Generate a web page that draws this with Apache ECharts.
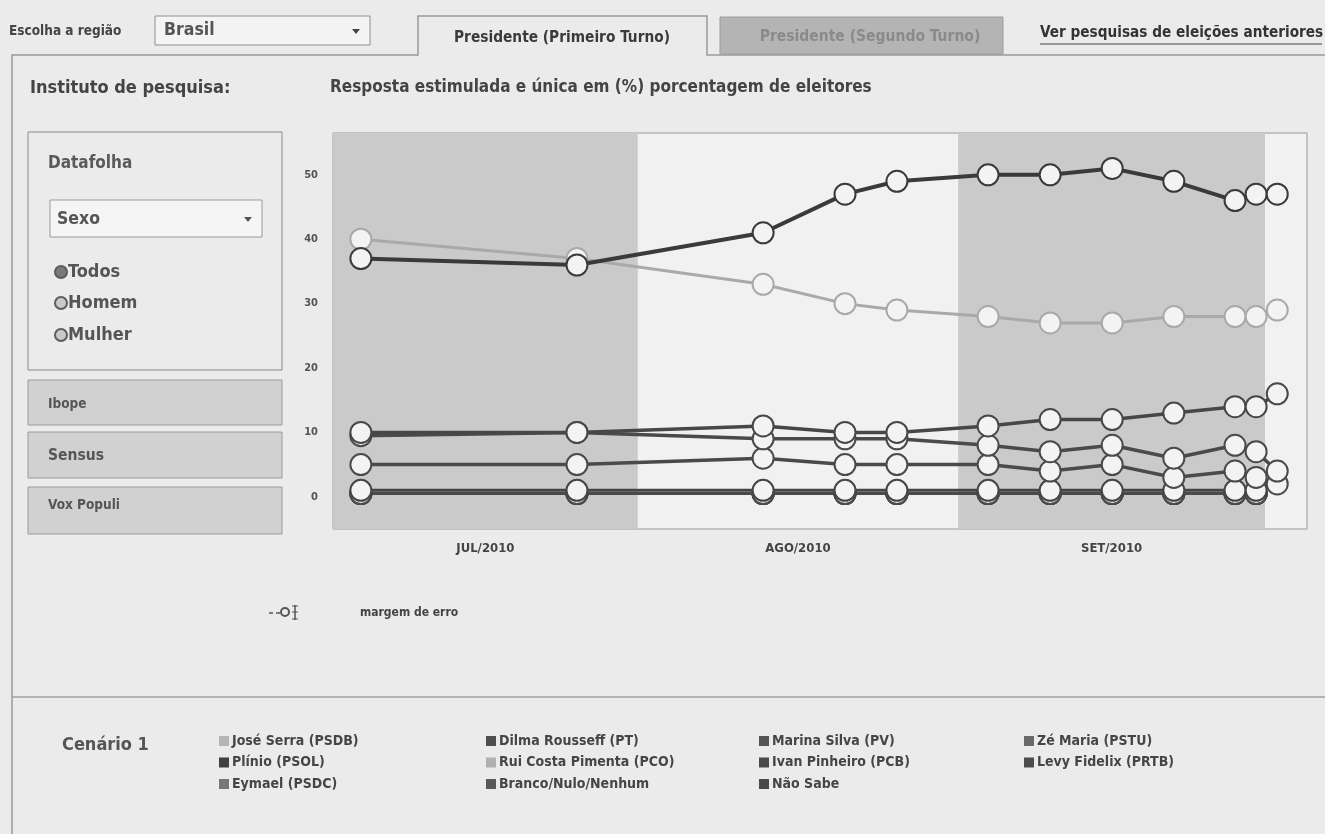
<!DOCTYPE html>
<html>
<head>
<meta charset="utf-8">
<script src="https://cdn.jsdelivr.net/npm/echarts@6/dist/echarts.min.js"></script>
<style>
  html, body { margin: 0; padding: 0; background: #ebebeb; }
  #chart { width: 1325px; height: 834px; }
</style>
</head>
<body>
<div id="chart"></div>
<script>
// Poll release dates (Datafolha, first round 2010)
const pollDates = [
  '2010-07-03 18:00', '2010-07-25 02:00', '2010-08-12 11:00', '2010-08-20 13:00',
  '2010-08-25 16:00', '2010-09-03 16:00', '2010-09-09 19:00', '2010-09-15 22:00',
  '2010-09-22 00:00', '2010-09-28 01:00', '2010-09-30 03:00', '2010-10-02 05:00'
];

// Month bands shown under the plot
const monthLabels = ['JUL/2010', 'AGO/2010', 'SET/2010'];
const monthBounds = ['2010-07-01 00:00', '2010-07-31 02:00', '2010-08-31 17:00', '2010-10-01 00:00'];
const shadedMonths = [true, false, true];
const xStart = '2010-07-01 00:00';
const xEnd = '2010-10-05 03:30';

// Y axis tick labels
const yTickLabels = [0, 10, 20, 30, 40, 50];

// Vote intention (%)
const serra   = [40, 37, 33, 30, 29, 28, 27, 27, 28, 28, 28, 29];
const dilma   = [37, 36, 41, 47, 49, 50, 50, 51, 49, 46, 47, 47];
const marina  = [10, 10, 11, 10, 10, 11, 12, 12, 13, 14, 14, 16];
const naoSabe = [9.5, 10, 9, 9, 9, 8, 7, 8, 6, 8, 7, 4];
const branco  = [5, 5, 6, 5, 5, 5, 4, 5, 3, 4, 3, 2];
const plinio  = [1, 1, 1, 1, 1, 1, 1, 1, 1, 1, 1, null];
const zeMaria = [0.5, 0.5, 0.5, 0.5, 0.5, 0.5, 0.5, 0.5, 0.5, 0.5, 0.5, null];
const rui     = [0.5, 0.5, 0.5, 0.5, 0.5, 0.5, 0.5, 0.5, 0.5, 0.5, 0.5, null];
const ivan    = [0.5, 0.5, 0.5, 0.5, 0.5, 0.5, 0.5, 0.5, 0.5, 0.5, 0.5, null];
const levy    = [0.5, 0.5, 0.5, 0.5, 0.5, 0.5, 0.5, 0.5, 0.5, 0.5, 0.5, null];
const eymael  = [0.5, 0.5, 0.5, 0.5, 0.5, 0.5, 0.5, 0.5, 0.5, 0.5, 0.5, null];

// Legend columns
const legendCols = [
  ['José Serra (PSDB)', 'Plínio (PSOL)', 'Eymael (PSDC)'],
  ['Dilma Rousseff (PT)', 'Rui Costa Pimenta (PCO)', 'Branco/Nulo/Nenhum'],
  ['Marina Silva (PV)', 'Ivan Pinheiro (PCB)', 'Não Sabe'],
  ['Zé Maria (PSTU)', 'Levy Fidelix (PRTB)']
];

const FONT = "'DejaVu Sans Condensed','Liberation Sans Narrow',sans-serif";

// name, values, line colour, legend swatch colour, line width (drawing order: bottom first)
const seriesDefs = [
  ['Eymael (PSDC)', eymael, '#4a4a4a', '#787878', 3],
  ['Levy Fidelix (PRTB)', levy, '#4a4a4a', '#4c4c4c', 3],
  ['Ivan Pinheiro (PCB)', ivan, '#4a4a4a', '#4a4a4a', 3],
  ['Rui Costa Pimenta (PCO)', rui, '#4a4a4a', '#b0b0b0', 3],
  ['Zé Maria (PSTU)', zeMaria, '#4a4a4a', '#6a6a6a', 3],
  ['Plínio (PSOL)', plinio, '#454545', '#404040', 3],
  ['Branco/Nulo/Nenhum', branco, '#4a4a4a', '#5a5a5a', 3.5],
  ['Não Sabe', naoSabe, '#4a4a4a', '#4a4a4a', 3.5],
  ['Marina Silva (PV)', marina, '#474747', '#545454', 3.5],
  ['José Serra (PSDB)', serra, '#a9a9a9', '#b5b5b5', 3],
  ['Dilma Rousseff (PT)', dilma, '#3a3a3a', '#4e4e4e', 4]
];

const swatch = {};
seriesDefs.forEach(d => { swatch[d[0]] = d[3]; });

const series = seriesDefs.map(d => ({
  name: d[0],
  type: 'line',
  z: 3,
  data: pollDates.map((t, i) => [t, d[1][i]]),
  connectNulls: false,
  symbol: 'circle',
  symbolSize: 21,
  showAllSymbol: true,
  clip: false,
  lineStyle: { color: d[2], width: d[4] },
  itemStyle: { color: '#f3f3f3', borderColor: d[2], borderWidth: 2 },
  emphasis: { disabled: true },
  animation: false
}));

// Month bands with their labels below the plot
const bandData = monthLabels.map((m, i) => [
  {
    xAxis: monthBounds[i],
    itemStyle: { color: shadedMonths[i] ? '#cacaca' : 'rgba(0,0,0,0)' },
    label: { show: true, position: 'bottom', distance: 13, formatter: m,
             color: '#444', fontFamily: FONT, fontWeight: 'bold', fontSize: 13 }
  },
  { xAxis: monthBounds[i + 1] }
]);
series.unshift({
  name: 'bands',
  type: 'line',
  z: 1,
  data: [],
  markArea: { silent: true, data: bandData },
  animation: false
});

const legends = legendCols.map((col, i) => ({
  orient: 'vertical',
  left: [219, 486, 759, 1024][i],
  top: 733,
  padding: 0,
  itemGap: 5.5,
  itemWidth: 10,
  itemHeight: 10,
  icon: 'rect',
  selectedMode: false,
  textStyle: { fontFamily: FONT, fontWeight: 'bold', fontSize: 14, lineHeight: 16, color: '#454545', padding: [0, 0, 0, -2] },
  data: col.map(n => ({ name: n, itemStyle: { color: swatch[n], borderWidth: 0 } }))
}));

function txt(x, y, s, size, color, align) {
  return {
    type: 'text', x: x, y: y, silent: true,
    style: { text: s, fontFamily: FONT, fontWeight: 'bold', fontSize: size,
             fill: color, align: align || 'left', verticalAlign: 'middle' }
  };
}
function rect(x, y, w, h, fill, stroke) {
  return { type: 'rect', silent: true, shape: { x: x, y: y, width: w, height: h },
           style: { fill: fill, stroke: stroke, lineWidth: 1 } };
}
function line(x1, y1, x2, y2, stroke, w) {
  return { type: 'line', silent: true, shape: { x1: x1, y1: y1, x2: x2, y2: y2 },
           style: { stroke: stroke, lineWidth: w || 1 } };
}
function tri(cx, cy, col) {
  return { type: 'polygon', silent: true,
           shape: { points: [[cx - 4, cy - 2], [cx + 4, cy - 2], [cx, cy + 3]] }, style: { fill: col } };
}
function radio(cx, cy, checked) {
  return { type: 'circle', silent: true, shape: { cx: cx, cy: cy, r: 6 },
           style: { fill: checked ? '#7a7a7a' : '#c9c9c9', stroke: '#5c5c5c', lineWidth: 2 } };
}

const graphics = [
  // page frame and tabs
  { type: 'polyline', silent: true,
    shape: { points: [[12, 834], [12, 55], [418, 55], [418, 16], [707, 16], [707, 55], [1325, 55]] },
    style: { stroke: '#9a9a9a', lineWidth: 1.5, fill: null } },
  txt(9, 31, 'Escolha a região', 13.5, '#444'),
  rect(155, 16, 215, 29, '#f4f4f4', '#8e8e8e'),
  txt(164, 30, 'Brasil', 17.5, '#555'),
  tri(356, 31, '#444'),
  txt(562, 38, 'Presidente (Primeiro Turno)', 15.3, '#3a3a3a', 'center'),
  rect(720, 17, 283, 37, '#b4b4b4', '#9c9c9c'),
  txt(870, 37, 'Presidente (Segundo Turno)', 15.5, '#8a8a8a', 'center'),
  txt(1040, 33, 'Ver pesquisas de eleições anteriores', 15.2, '#333'),
  line(1040, 44, 1322, 44, '#444', 1),

  // left panel
  txt(30, 88, 'Instituto de pesquisa:', 18, '#444'),
  txt(330, 88, 'Resposta estimulada e única em (%) porcentagem de eleitores', 17, '#444'),
  rect(28, 132, 254, 238, 'rgba(0,0,0,0)', '#8a8a8a'),
  txt(48, 164, 'Datafolha', 17, '#5a5a5a'),
  rect(50, 200, 212, 37, '#f5f5f5', '#9a9a9a'),
  txt(57, 219, 'Sexo', 17.5, '#555'),
  tri(248, 219, '#555'),
  radio(61, 272, true), txt(68, 272, 'Todos', 18, '#555'),
  radio(61, 303, false), txt(68, 303, 'Homem', 18, '#555'),
  radio(61, 335, false), txt(68, 335, 'Mulher', 18, '#555'),
  rect(28, 380, 254, 45, '#d1d1d1', '#9a9a9a'),
  txt(48, 404, 'Ibope', 13.5, '#555'),
  rect(28, 432, 254, 46, '#d1d1d1', '#9a9a9a'),
  txt(48, 456, 'Sensus', 15.5, '#555'),
  rect(28, 487, 254, 47, '#d1d1d1', '#9a9a9a'),
  txt(48, 505, 'Vox Populi', 13.5, '#555'),

  // error-margin key
  line(269, 613, 273, 613, '#555', 1.5),
  line(276, 613, 280, 613, '#555', 1.5),
  { type: 'circle', silent: true, shape: { cx: 285, cy: 612, r: 4 }, style: { fill: 'none', stroke: '#555', lineWidth: 2 } },
  line(295, 605, 295, 620, '#555', 1.5),
  line(292, 606, 298, 606, '#555', 1),
  line(292, 619, 298, 619, '#555', 1),
  line(292, 612, 298, 612, '#555', 1),
  txt(360, 613, 'margem de erro', 12, '#444'),

  // legend area
  line(12, 697, 1325, 697, '#a0a0a0', 1.5),
  txt(62, 745, 'Cenário 1', 18, '#555')
];

const chart = echarts.init(document.getElementById('chart'));
chart.setOption({
  backgroundColor: '#ebebeb',
  animation: false,
  grid: { left: 333, right: 18, top: 133, bottom: 305, show: true,
          backgroundColor: '#f1f1f1', borderColor: '#999', borderWidth: 1 },
  xAxis: {
    type: 'time', min: xStart, max: xEnd,
    axisLine: { show: false }, axisTick: { show: false },
    axisLabel: { show: false }, splitLine: { show: false }
  },
  yAxis: {
    type: 'value', min: -5, max: 56.5, interval: 5,
    axisLine: { show: false }, axisTick: { show: false }, splitLine: { show: false },
    axisLabel: {
      margin: 15, color: '#555', fontFamily: FONT, fontWeight: 'bold', fontSize: 11,
      formatter: v => (yTickLabels.indexOf(v) >= 0 ? String(v) : '')
    }
  },
  legend: legends,
  tooltip: { show: false },
  graphic: graphics,
  series: series
});
</script>
</body>
</html>
